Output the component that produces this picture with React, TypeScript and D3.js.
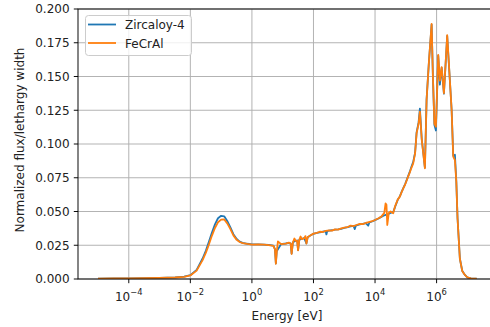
import React from "react";
import * as d3 from "d3";

// energy grid [eV] and flux per unit lethargy
const zircaloyEnergy = [
  1.0e-5, 3.2e-5, 1.0e-4, 3.2e-4, 1.0e-3, 3.2e-3, 6.3e-3, 1.0e-2, 1.6e-2, 2.5e-2,
  3.2e-2, 4.0e-2, 5.0e-2, 6.3e-2, 7.9e-2, 0.1, 0.126, 0.158, 0.2, 0.25, 0.32, 0.4, 0.5,
  0.71, 1.0, 1.6, 2.5, 3.5, 5.0, 5.6, 6.0, 6.4, 8.9, 12.6, 15.8, 18.2, 19.5, 21.4, 26.3,
  29.5, 31.6, 34.7, 41.7, 50, 59, 65, 79, 100, 130, 160, 200, 250, 263, 280, 320, 400,
  500, 630, 800, 1000, 1300, 1600, 2000, 2200, 2400, 2500, 3200, 4000, 5000, 6000, 6600,
  8000, 1.0e4, 1.3e4, 1.6e4, 2.0e4, 2.5e4, 3.2e4, 3.9e4, 4.5e4, 5.5e4, 6.4e4, 7.2e4,
  8.2e4, 9.5e4, 1.19e5, 1.35e5, 1.5e5, 1.74e5, 2.0e5, 2.24e5, 2.6e5, 2.87e5, 3.3e5,
  4.17e5, 4.73e5, 5.6e5, 6.89e5, 7.6e5, 8.5e5, 9.5e5, 1.13e6, 1.28e6, 1.46e6, 1.73e6,
  2.21e6, 3.08e6, 3.47e6, 3.94e6, 4.37e6, 4.79e6, 5.7e6, 6.8e6, 8.3e6, 1.0e7, 1.3e7, 2.0e7,
];
const zircaloyFlux = [
  0.0003, 0.0004, 0.0005, 0.0006, 0.0008, 0.0012, 0.0017, 0.0028, 0.0068, 0.0152,
  0.021, 0.0275, 0.0342, 0.0405, 0.045, 0.0468, 0.0464, 0.043, 0.0383, 0.0332, 0.0296, 0.0277, 0.0268,
  0.0261, 0.0256, 0.0257, 0.0255, 0.0252, 0.0247, 0.0222, 0.0115, 0.0205, 0.0259, 0.0263, 0.0267, 0.0262, 0.0188, 0.0272, 0.0282,
  0.0285, 0.0214, 0.0291, 0.0297, 0.0303, 0.0264, 0.031, 0.0322, 0.0335, 0.0341, 0.0346, 0.035, 0.0354, 0.033, 0.0355, 0.0358, 0.0361,
  0.0365, 0.0368, 0.0372, 0.0378, 0.0384, 0.039, 0.0393, 0.037, 0.0396, 0.0398, 0.0405, 0.0409, 0.0414, 0.0395, 0.042,
  0.0426, 0.0436, 0.0448, 0.046, 0.0472, 0.0478, 0.049, 0.0495, 0.0535, 0.0588, 0.0612, 0.0642,
  0.0672, 0.0703, 0.0762, 0.0795, 0.0828, 0.0868, 0.0935, 0.1085, 0.116, 0.1262, 0.1035,
  0.0825, 0.133, 0.1598, 0.1885, 0.149, 0.114, 0.11, 0.1655, 0.144, 0.1565, 0.1372,
  0.18, 0.1252, 0.0915, 0.092, 0.0725, 0.0452, 0.0152, 0.0061, 0.003, 0.0012, 0.0004, 0.0002,
];

const fecralEnergy = [
  1.0e-5, 3.2e-5, 1.0e-4, 3.2e-4, 1.0e-3, 3.2e-3, 6.3e-3, 1.0e-2, 1.6e-2, 2.5e-2,
  3.2e-2, 4.0e-2, 5.0e-2, 6.3e-2, 7.9e-2, 0.1, 0.126, 0.158, 0.2, 0.25, 0.32, 0.4, 0.5,
  0.71, 1.0, 1.6, 2.5, 3.5, 5.0, 5.6, 6.0, 6.4, 7.0, 8.9, 12.6, 15.8, 18.2, 19.5, 21.4, 24,
  26.3, 29.5, 31.6, 34.7, 38, 41.7, 50, 55, 59, 65, 79, 100, 130, 160, 200, 250, 320, 400,
  500, 630, 800, 1000, 1300, 1600, 2000, 2500, 3200, 4000, 5000, 6300, 8000, 1.0e4,
  1.3e4, 1.6e4, 2.0e4, 2.2e4, 2.35e4, 2.5e4, 2.8e4, 3.2e4, 3.9e4, 4.5e4, 5.5e4, 6.4e4,
  7.2e4, 8.2e4, 9.5e4, 1.19e5, 1.35e5, 1.5e5, 1.74e5, 2.0e5, 2.24e5, 2.6e5, 2.87e5,
  3.3e5, 4.17e5, 4.73e5, 5.6e5, 6.89e5, 7.6e5, 8.5e5, 9.5e5, 1.13e6, 1.28e6, 1.46e6,
  1.73e6, 2.21e6, 3.08e6, 3.47e6, 3.94e6, 4.37e6, 4.79e6, 5.7e6, 6.8e6, 8.3e6, 1.0e7, 1.3e7, 2.0e7,
];
const fecralFlux = [
  0.0003, 0.0004, 0.0005, 0.0006, 0.0008, 0.0011, 0.0016, 0.0026, 0.0062, 0.014,
  0.0195, 0.0255, 0.032, 0.0378, 0.042, 0.044, 0.0441, 0.0412, 0.037, 0.0323, 0.029, 0.0274, 0.0266,
  0.026, 0.0255, 0.0257, 0.0254, 0.0251, 0.0246, 0.022, 0.0113, 0.02, 0.0278, 0.0258, 0.0262, 0.027, 0.0262, 0.0185, 0.027, 0.03,
  0.0282, 0.0284, 0.0212, 0.029, 0.0315, 0.0296, 0.0302, 0.0318, 0.0262, 0.031, 0.0322, 0.0336, 0.0342, 0.035, 0.0348, 0.0356, 0.036, 0.0358,
  0.0368, 0.0366, 0.0375, 0.038, 0.0385, 0.0396, 0.0392, 0.04, 0.0408, 0.0406, 0.0415, 0.0422, 0.0428, 0.0437,
  0.045, 0.0462, 0.049, 0.056, 0.055, 0.04, 0.049, 0.05, 0.0487, 0.054, 0.059, 0.061,
  0.064, 0.067, 0.07, 0.0758, 0.079, 0.082, 0.0857, 0.093, 0.108, 0.115, 0.124,
  0.103, 0.082, 0.1326, 0.16, 0.189, 0.15, 0.115, 0.1128, 0.166, 0.147, 0.157,
  0.1376, 0.1807, 0.125, 0.0906, 0.088, 0.072, 0.045, 0.015, 0.006, 0.003, 0.0012, 0.0004, 0.0002,
];

const seriesNames = ["Zircaloy-4", "FeCrAl"];
const seriesColors = ["#1f77b4", "#ff7f0e"];
const xTickExponents = [-4, -2, 0, 2, 4, 6];
const yTicks = [0, 0.025, 0.05, 0.075, 0.1, 0.125, 0.15, 0.175, 0.2];

const W = 490;
const H = 327;
const margin = { top: 9, right: -6, bottom: 48, left: 78 };
const font = "DejaVu Sans, sans-serif";
const fs = 12;
const tickLen = 4.2;

export default function App() {
  const x = d3
    .scaleLog()
    .domain([Math.pow(10, -5.65), Math.pow(10, 7.93)])
    .range([margin.left, W - margin.right]);
  const y = d3.scaleLinear().domain([0, 0.2]).range([H - margin.bottom, margin.top]);

  const line = d3
    .line<[number, number]>()
    .x((d) => x(d[0]))
    .y((d) => y(d[1]));

  const series = [
    d3.zip(zircaloyEnergy, zircaloyFlux) as [number, number][],
    d3.zip(fecralEnergy, fecralFlux) as [number, number][],
  ];

  const x0 = margin.left;
  const x1 = W - margin.right;
  const y0 = H - margin.bottom;
  const y1 = margin.top;
  const fmt = d3.format(".3f");

  return (
    <div style={{ position: "fixed", left: 0, top: 0 }}>
      <svg width={W} height={H} style={{ display: "block", background: "#fff" }} fontFamily={font}>
        <defs>
          <clipPath id="plot">
            <rect x={x0} y={y1} width={x1 - x0} height={y0 - y1} />
          </clipPath>
        </defs>

        {/* grid */}
        {xTickExponents.map((e) => (
          <line key={"gx" + e} x1={x(Math.pow(10, e))} x2={x(Math.pow(10, e))} y1={y1} y2={y0}
            stroke="#b0b0b0" strokeWidth={0.96} />
        ))}
        {yTicks.map((t) => (
          <line key={"gy" + t} x1={x0} x2={x1} y1={y(t)} y2={y(t)} stroke="#b0b0b0" strokeWidth={0.96} />
        ))}

        {/* lines */}
        <g clipPath="url(#plot)">
          {series.map((s, i) => (
            <path key={i} d={line(s) || ""} fill="none" stroke={seriesColors[i]} strokeWidth={1.8}
              strokeLinejoin="round" />
          ))}
        </g>

        {/* spines */}
        <rect x={x0} y={y1} width={x1 - x0} height={y0 - y1} fill="none" stroke="#000" strokeWidth={0.96} />

        {/* x ticks */}
        {xTickExponents.map((e) => {
          const px = x(Math.pow(10, e));
          return (
            <g key={"xt" + e}>
              <line x1={px} x2={px} y1={y0} y2={y0 + tickLen} stroke="#000" strokeWidth={0.96} />
              <text x={px} y={300.5} fontSize={fs} textAnchor="middle" fill="#222">
                10
                <tspan fontSize={fs * 0.7} dy={-5.5}>{e < 0 ? "\u2212" + Math.abs(e) : String(e)}</tspan>
              </text>
            </g>
          );
        })}

        {/* y ticks */}
        {yTicks.map((t) => (
          <g key={"yt" + t}>
            <line x1={x0 - tickLen} x2={x0} y1={y(t)} y2={y(t)} stroke="#000" strokeWidth={0.96} />
            <text x={x0 - 2 * tickLen} y={y(t) + 4.4} fontSize={fs} textAnchor="end" fill="#222">{fmt(t)}</text>
          </g>
        ))}

        {/* axis labels */}
        <text x={287} y={319.5} fontSize={fs} textAnchor="middle" fill="#222">Energy [eV]</text>
        <text transform={`translate(24,140) rotate(-90)`} fontSize={fs} textAnchor="middle" fill="#222">
          Normalized flux/lethargy width
        </text>

        {/* legend */}
        <g>
          <rect x={85.5} y={15.5} width={106} height={40} rx={3} fill="#fff" fillOpacity={0.8}
            stroke="#cccccc" strokeWidth={1} />
          {seriesNames.map((n, i) => (
            <g key={n}>
              <line x1={88} x2={116} y1={24.5 + i * 18.5} y2={24.5 + i * 18.5} stroke={seriesColors[i]} strokeWidth={1.8} />
              <text x={125} y={29 + i * 18.5} fontSize={fs} fill="#222">{n}</text>
            </g>
          ))}
        </g>
      </svg>
    </div>
  );
}
